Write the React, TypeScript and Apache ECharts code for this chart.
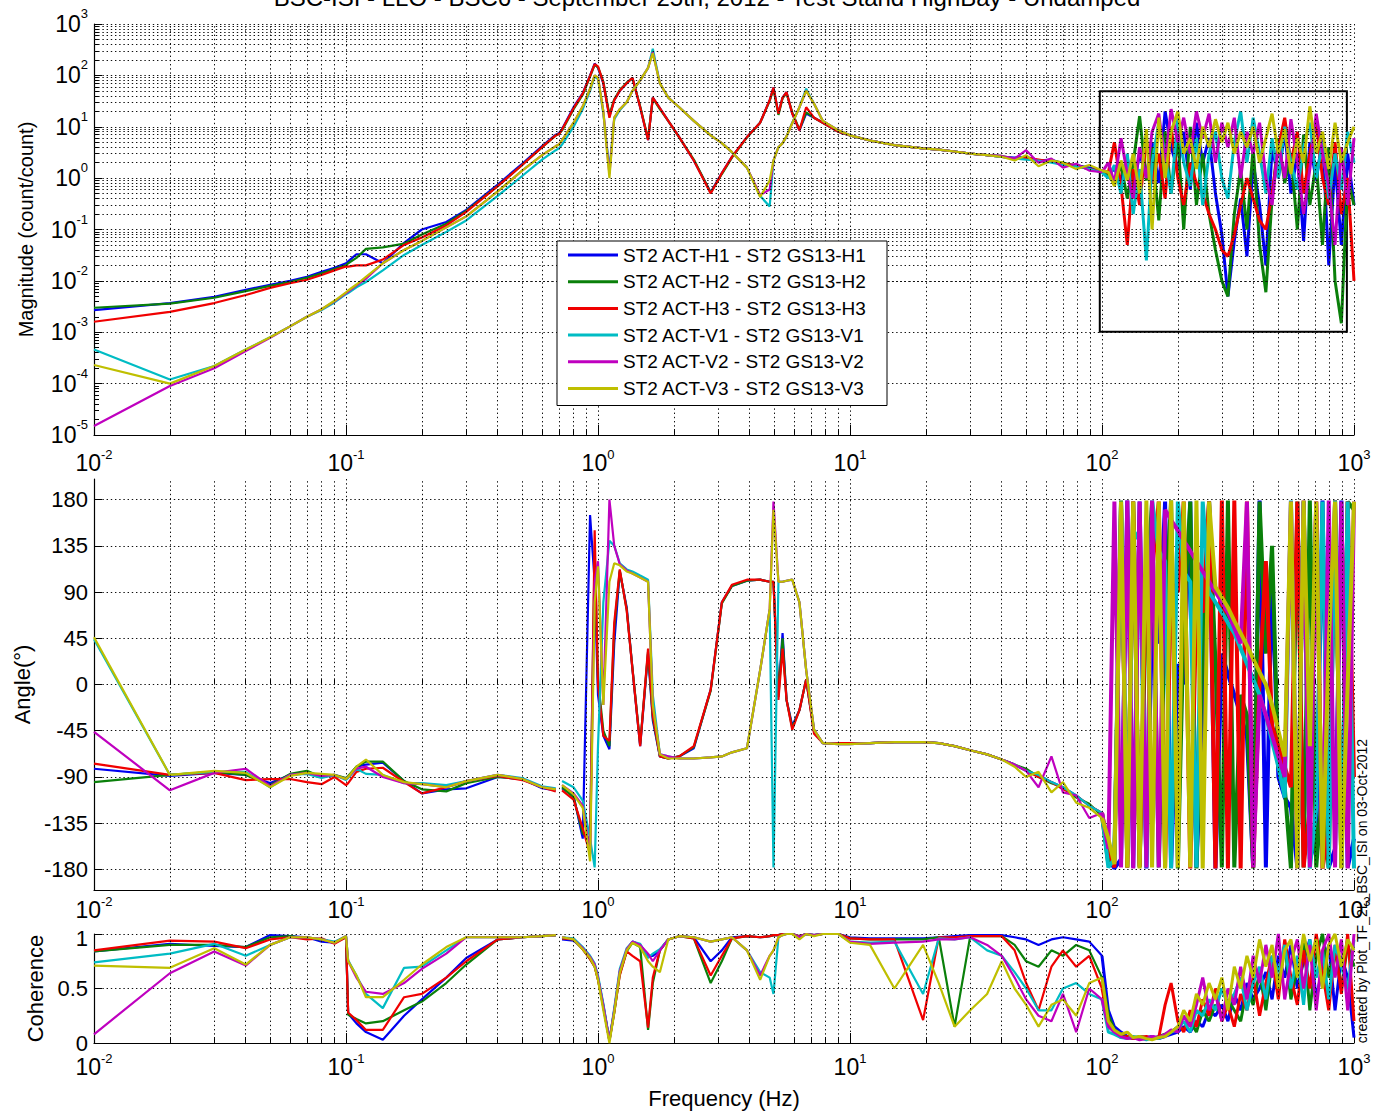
import React, { useEffect, useRef } from 'react';
import * as echarts from 'echarts';

// ---------------- data ----------------
const FREQ_LOW = [
  0.01, 0.02, 0.03, 0.04, 0.05, 0.06, 0.07, 0.08, 0.09, 0.1,
  0.102, 0.11, 0.12, 0.14, 0.17, 0.2, 0.25, 0.3, 0.4, 0.5,
  0.6, 0.68, 0.7, 0.72, 0.8, 0.87, 0.93, 0.97, 1.0, 1.05,
  1.11, 1.16, 1.22, 1.3, 1.37, 1.47, 1.58, 1.65, 1.76, 1.9,
  2.1, 2.4, 2.8, 3.1, 3.4, 3.9, 4.4, 4.8, 4.97, 5.2,
  5.4, 5.6, 5.9, 6.3, 6.7, 7.2, 7.8, 9, 10, 12,
  15, 19.5, 22.5, 26, 30, 35, 40, 45, 50, 56,
  63, 70, 79, 89, 100,
];
const FREQ_HIGH = [
  106, 112, 119, 126, 133, 141, 150, 158, 168, 178,
  188, 200, 211, 224, 237, 251, 266, 282, 299, 316,
  335, 355, 376, 398, 422, 447, 473, 501, 531, 562,
  596, 631, 668, 708, 750, 794, 841, 891, 944, 1000,
];

const NAMES = [
  'ST2 ACT-H1 - ST2 GS13-H1',
  'ST2 ACT-H2 - ST2 GS13-H2',
  'ST2 ACT-H3 - ST2 GS13-H3',
  'ST2 ACT-V1 - ST2 GS13-V1',
  'ST2 ACT-V2 - ST2 GS13-V2',
  'ST2 ACT-V3 - ST2 GS13-V3',
];
const COLORS = ['#0000f0', '#0a800a', '#f00000', '#00bcc4', '#bf00bf', '#bfbf00'];

// Magnitude (count/count)
const MAG_H1_LOW = [
  2.7e-3, 3.7e-3, 4.9e-3, 6.7e-3, 8.4e-3, 1.0e-2, 1.2e-2, 1.5e-2, 1.8e-2, 2.2e-2,
  2.4e-2, 3.3e-2, 3.3e-2, 2.2e-2, 5.5e-2, 0.1, 0.14, 0.24, 0.75, 1.9,
  4.2, 7, 7.5, 9, 24, 45, 100, 170, 140, 70,
  16, 33, 50, 70, 90, 24, 5.5, 37, 23, 13,
  6.3, 2.2, 0.53, 1.25, 2.6, 6.3, 12, 33, 58, 18,
  37, 47, 18, 8.5, 18, 15, 12, 8, 6.8, 5.4,
  4.4, 3.8, 3.6, 3.3, 3.0, 2.8, 2.6, 2.5, 2.6, 2.2,
  2.3, 1.9, 1.8, 1.6, 1.4,
];
const MAG_H1_HIGH = [
  1.2, 1.5, 0.9, 2.5, 0.6, 3, 1.1, 5, 0.8, 20,
  4, 1.5, 8, 0.6, 12, 2, 6, 0.5, 0.08, 0.005,
  0.06, 0.4, 0.03, 2, 0.3, 0.02, 4, 1, 8, 0.5,
  3, 0.06, 5, 0.9, 6, 0.02, 2, 0.05, 3, 0.3,
];
const MAG_H2_LOW = [
  3.0e-3, 3.6e-3, 4.7e-3, 6.3e-3, 8.0e-3, 9.5e-3, 1.15e-2, 1.4e-2, 1.7e-2, 2.0e-2,
  2.2e-2, 2.8e-2, 4.2e-2, 4.5e-2, 5.3e-2, 8e-2, 0.13, 0.23, 0.7, 1.8,
  4.0, 6.8, 7.2, 8.5, 22, 42, 95, 160, 145, 75,
  17, 34, 52, 72, 88, 25, 5.8, 36, 22, 13,
  6.2, 2.3, 0.52, 1.2, 2.5, 6.2, 12, 32, 55, 17,
  36, 45, 19, 8.8, 19, 15, 12, 8, 6.8, 5.4,
  4.4, 3.8, 3.6, 3.3, 3.0, 2.8, 2.7, 2.4, 2.5, 2.1,
  2.2, 2.0, 1.7, 1.5, 1.3,
];
const MAG_H2_HIGH = [
  1.1, 0.8, 1.8, 0.4, 2, 16, 0.9, 4, 0.15, 8,
  0.5, 6, 0.1, 10, 0.3, 3, 0.2, 0.04, 0.01, 0.005,
  0.2, 1.5, 0.1, 4, 0.05, 0.006, 0.4, 6, 0.8, 3,
  0.1, 7, 0.3, 2, 0.05, 4, 0.01, 0.0015, 1, 0.3,
];
const MAG_H3_LOW = [
  1.6e-3, 2.5e-3, 3.7e-3, 5.3e-3, 7.3e-3, 9.0e-3, 1.05e-2, 1.3e-2, 1.6e-2, 1.9e-2,
  1.9e-2, 2.0e-2, 2.0e-2, 2.6e-2, 5.0e-2, 7e-2, 0.12, 0.22, 0.7, 1.8,
  4.0, 6.8, 7.2, 8.8, 23, 44, 98, 165, 150, 72,
  15, 33, 50, 70, 90, 24, 5.5, 37, 23, 13,
  6.3, 2.2, 0.5, 1.25, 2.6, 6.3, 12, 33, 58, 18,
  37, 47, 18, 8.5, 24, 15, 12, 8, 6.8, 5.4,
  4.4, 3.8, 3.6, 3.3, 3.0, 2.8, 2.6, 2.4, 2.5, 2.3,
  2.1, 1.9, 1.8, 1.5, 1.4,
];
const MAG_H3_HIGH = [
  1.3, 5, 0.7, 0.05, 1.5, 0.3, 6, 0.8, 3, 0.4,
  10, 1, 0.3, 2, 0.8, 0.5, 0.2, 0.1, 0.04, 0.03,
  0.08, 0.3, 1, 0.4, 0.15, 0.1, 0.5, 4, 15, 2,
  8, 0.5, 3, 12, 1, 0.3, 5, 0.2, 1, 0.01,
];
const MAG_V1_LOW = [
  4.6e-4, 1.2e-4, 2.2e-4, 4.6e-4, 8e-4, 1.3e-3, 2.0e-3, 2.7e-3, 3.8e-3, 5.5e-3,
  5.8e-3, 7.5e-3, 9.5e-3, 1.6e-2, 3.2e-2, 5e-2, 0.09, 0.15, 0.45, 1.1,
  2.3, 3.5, 3.8, 4.5, 10, 22, 50, 95, 85, 18,
  1.5, 14, 21, 30, 50, 80, 140, 330, 70, 37,
  24, 13, 6.8, 4.8, 3.2, 1.6, 0.45, 0.28, 2.2, 4,
  4.8, 6.5, 12, 24, 55, 28, 13, 8.5, 6.8, 5.4,
  4.4, 3.8, 3.6, 3.3, 3.0, 2.8, 2.6, 2.4, 2.3, 2.2,
  2.0, 1.8, 1.7, 1.5, 1.3,
];
const MAG_V1_HIGH = [
  1.0, 1.8, 0.5, 3, 0.2, 1.5, 0.025, 2, 12, 3,
  0.5, 15, 2, 0.7, 6, 0.3, 3, 8, 1, 0.4,
  5, 20, 2, 15, 3, 0.5, 6, 1, 10, 2,
  0.6, 4, 12, 1, 5, 0.4, 3, 0.6, 8, 2,
];
const MAG_V2_LOW = [
  1.5e-5, 9e-5, 2.0e-4, 4.3e-4, 7.8e-4, 1.3e-3, 2.0e-3, 2.8e-3, 4.0e-3, 5.8e-3,
  6.2e-3, 8.2e-3, 1.1e-2, 2.2e-2, 4e-2, 6e-2, 0.11, 0.18, 0.55, 1.4,
  2.8, 4.2, 4.5, 5.5, 12, 25, 55, 100, 90, 20,
  1.2, 15, 22, 30, 50, 80, 140, 280, 70, 37,
  24, 13, 6.8, 4.8, 3.2, 1.6, 0.47, 0.6, 2.2, 4,
  4.8, 6.5, 11.7, 24, 50, 28, 13, 8.5, 6.8, 5.4,
  4.4, 3.8, 3.6, 3.3, 3.0, 2.8, 2.7, 2.4, 3.5, 2.0,
  2.4, 1.6, 1.9, 1.4, 1.3,
];
const MAG_V2_HIGH = [
  2, 0.8, 6, 1.2, 0.4, 4, 1, 8, 18, 2,
  22, 5, 15, 3, 20, 6, 18, 2, 12, 4,
  15, 1, 8, 3, 12, 1, 0.3, 5, 1, 14,
  2, 0.2, 1.5, 18, 3, 0.7, 0.05, 4, 0.3, 6,
];
const MAG_V3_LOW = [
  2.3e-4, 1.0e-4, 2.2e-4, 4.6e-4, 8e-4, 1.3e-3, 2.0e-3, 2.8e-3, 4.1e-3, 6.0e-3,
  6.5e-3, 8.5e-3, 1.2e-2, 2.2e-2, 4e-2, 6e-2, 0.11, 0.18, 0.55, 1.4,
  2.8, 4.2, 4.5, 5.5, 12, 25, 55, 100, 90, 20,
  1.0, 15, 22, 30, 50, 80, 140, 270, 70, 37,
  24, 13, 6.8, 4.8, 3.2, 1.6, 0.43, 0.9, 2.2, 4,
  4.8, 6.5, 11.7, 24, 50, 28, 13, 8.5, 6.8, 5.4,
  4.4, 3.8, 3.6, 3.3, 3.0, 2.8, 2.6, 2.2, 2.8, 1.7,
  2.2, 2.0, 1.5, 1.8, 1.4,
];
const MAG_V3_HIGH = [
  1.3, 0.7, 2.2, 0.9, 3, 0.5, 9, 0.1, 15, 1,
  8, 20, 3, 6, 1.5, 10, 4, 14, 5, 12,
  3, 8, 4, 10, 2, 6, 18, 3, 9, 1.2,
  6, 2, 25, 3, 8, 1.5, 12, 2, 5, 10,
];

// Phase (degrees)
const PH_H1_LOW = [
  -82, -89, -86, -88, -96, -88, -86, -90, -88, -92,
  -90, -80, -78, -76, -94, -106, -102, -101, -90, -92,
  -101, -103, null, -101, -108, -150, 165, 100, -10, -50,
  -63, 40, 110, 75, 15, -60, 30, -35, -70, -72,
  -70, -62, -5, 80, 96, 101, 102, 100, 100, -10,
  50, -15, -40, -25, 5, -45, -57, -57, -57, -57,
  -56, -56, -57, -60, -64, -68, -73, -78, -84, -88,
  -95, -100, -108, -118, -125,
];
const PH_H1_HIGH = [
  -170, -179, -170, 179, -178, 178, -179, 60, 40, 178,
  -178, 20, 0, 178, -178, -20, 178, -179, 30, 10,
  -10, -30, -50, -178, 179, -178, 110, -90, -110, -120,
  -178, 178, -170, -150, 179, -178, -160, 179, -178, -150,
];
const PH_H2_LOW = [
  -95, -88, -85, -88, -98, -87, -84, -90, -88, -91,
  -89, -80, -75, -75, -94, -102, -104, -96, -90, -92,
  -100, -102, null, -100, -110, -145, -150, 130, 5, -45,
  -60, 55, 111, 73, 16, -58, 32, -32, -70, -72,
  -70, -61, -6, 79, 96, 101, 102, 100, 100, -12,
  45, -15, -42, -25, 5, -46, -57, -57, -57, -57,
  -56, -56, -57, -60, -64, -68, -73, -78, -82, -90,
  -96, -100, -110, -116, -128,
];
const PH_H2_HIGH = [
  -175, -165, 179, -178, 178, -178, 90, 178, -178, 70,
  179, -179, 60, 178, -179, 40, 178, 20, -178, 179,
  -178, -10, -30, -179, 178, 30, 135, -80, -100, -179,
  178, -178, 179, -178, -100, -179, 179, -178, 178, 170,
];
const PH_H3_LOW = [
  -77, -88, -86, -93, -92, -92, -95, -97, -90, -98,
  -96, -85, -82, -81, -95, -106, -100, -94, -89, -93,
  -100, -104, null, -103, -112, -140, -165, 150, 0, -50,
  -55, 60, 112, 72, 15, -60, 35, -30, -70, -72,
  -70, -60, -5, 80, 97, 102, 102, 100, 100, -15,
  35, -15, -44, -25, 5, -48, -57, -57, -57, -57,
  -56, -56, -57, -60, -64, -68, -73, -78, -84, -90,
  -95, -102, -108, -118, -125,
];
const PH_H3_HIGH = [
  -160, -178, 175, -178, 178, -177, 120, 110, 178, -178,
  100, 90, 178, -179, 80, 70, 178, -179, 179, -179,
  179, -179, 178, -178, 5, 120, -40, -60, -80, -100,
  178, -178, -120, 178, -179, -140, 179, -178, 178, -90,
];
const PH_V1_LOW = [
  44, -88, -85, -85, -100, -88, -87, -91, -88, -93,
  -91, -82, -87, -88, -96, -96, -98, -94, -88, -91,
  -99, -101, null, -94, -100, -113, -150, -178, -60, 80,
  140, 135, 118, 112, 110, 106, 102, -10, -68, -70,
  -72, -72, -71, -70, -66, -62, 14, 73, -178, 100,
  100, 101, 102, 80, 14, -44, -57, -58, -58, -57,
  -56, -56, -57, -60, -64, -68, -73, -78, -84, -88,
  -95, -100, -108, -118, -125,
];
const PH_V1_HIGH = [
  -178, -170, 178, -160, 150, 140, -178, 179, 130, 120,
  -179, 178, 110, 100, -178, 178, 90, 80, 70, 60,
  50, 35, 20, 5, -10, -30, -55, -80, -110, 179,
  -178, 178, -179, -120, 178, -179, 179, -178, 178, -179,
];
const PH_V2_LOW = [
  -46, -103, -86, -82, -99, -88, -86, -89, -88, -92,
  -90, -82, -80, -90, -96, -97, -100, -94, -88, -92,
  -100, -102, null, -98, -106, -118, -165, 100, 120, -20,
  180, 135, 117, 111, 108, 104, 100, -20, -68, -70,
  -72, -72, -71, -70, -66, -62, 14, 73, 178, 100,
  100, 101, 102, 80, 14, -44, -57, -58, -58, -57,
  -56, -56, -57, -60, -64, -68, -73, -78, -84, -100,
  -70, -105, -108, -130, -125,
];
const PH_V2_HIGH = [
  -160, 178, -178, 179, -179, 178, -178, 179, -178, 170,
  160, 150, 140, 130, 120, 110, 100, 90, 80, 70,
  55, 40, 178, -178, -10, -30, -50, -70, -90, 178,
  -179, 179, -178, 178, -179, 179, -178, 178, -179, 178,
];
const PH_V3_LOW = [
  46, -88, -84, -86, -100, -89, -86, -87, -88, -92,
  -90, -80, -73, -88, -95, -97, -100, -94, -88, -92,
  -100, -102, null, -98, -107, -120, -172, 80, 115, -20,
  100, 118, 116, 110, 108, 104, 100, -20, -68, -72,
  -72, -72, -71, -70, -66, -62, 14, 73, 170, 100,
  100, 101, 102, 80, 14, -44, -57, -58, -58, -57,
  -56, -56, -57, -60, -64, -68, -73, -80, -90, -85,
  -105, -95, -115, -120, -130,
];
const PH_V3_HIGH = [
  -150, -175, 178, -178, 178, -179, 179, -178, 178, -179,
  179, -178, 178, -178, 179, -179, 178, 95, 85, 75,
  62, 50, 38, 25, 12, 0, -20, -45, -70, 178,
  -179, 179, -60, 178, -179, 40, 178, -179, 0, 178,
];

// Coherence
const COH_H1_LOW = [
  0.84, 0.91, 0.89, 0.88, 0.99, 0.98, 0.97, 0.93, 0.92, 0.98,
  0.27, 0.18, 0.1, 0.03, 0.25, 0.4, 0.6, 0.78, 0.95, 0.97,
  0.98, 0.99, null, 0.95, 0.94, 0.87, 0.78, 0.72, 0.6, 0.35,
  0.03, 0.3, 0.65, 0.85, 0.93, 0.9, 0.8, 0.8, 0.85, 0.95,
  0.98, 0.97, 0.75, 0.85, 0.97, 0.98, 0.97, 0.98, 0.99, 0.99,
  1.0, 1.0, 1.0, 0.98, 1.0, 0.99, 1.0, 1.0, 0.97, 0.96,
  0.96, 0.96, 0.97, 0.98, 0.99, 0.99, 0.99, 0.97, 0.95, 0.9,
  0.95, 0.97, 0.95, 0.93, 0.8,
];
const COH_H1_HIGH = [
  0.3, 0.15, 0.1, 0.06, 0.05, 0.04, 0.05, 0.06, 0.04, 0.06,
  0.08, 0.1, 0.15, 0.1, 0.2, 0.15, 0.3, 0.25, 0.35, 0.2,
  0.45, 0.3, 0.55, 0.4, 0.5, 0.65, 0.4, 0.8, 0.6, 0.9,
  0.5, 0.75, 0.95, 0.4, 0.7, 0.9, 0.3, 0.8, 0.6, 0.05,
];
const COH_H2_LOW = [
  0.84, 0.9, 0.9, 0.88, 0.97, 0.98, 0.96, 0.95, 0.92, 0.97,
  0.26, 0.22, 0.18, 0.2, 0.3, 0.38, 0.55, 0.72, 0.95, 0.97,
  0.98, 0.99, null, 0.96, 0.95, 0.86, 0.77, 0.7, 0.58, 0.33,
  0.02, 0.28, 0.63, 0.84, 0.92, 0.88, 0.12, 0.55, 0.85, 0.95,
  0.98, 0.96, 0.55, 0.75, 0.96, 0.98, 0.97, 0.98, 0.99, 0.99,
  1.0, 1.0, 1.0, 0.98, 1.0, 0.99, 1.0, 1.0, 0.96, 0.95,
  0.95, 0.95, 0.97, 0.15, 0.98, 0.98, 0.98, 0.9, 0.75, 0.7,
  0.85, 0.8, 0.9, 0.85, 0.6,
];
const COH_H2_HIGH = [
  0.25, 0.12, 0.08, 0.05, 0.04, 0.06, 0.05, 0.04, 0.06, 0.08,
  0.1, 0.15, 0.12, 0.2, 0.1, 0.3, 0.2, 0.35, 0.25, 0.4,
  0.3, 0.2, 0.5, 0.35, 0.65, 0.3, 0.75, 0.55, 0.9, 0.4,
  0.7, 0.95, 0.3, 0.8, 1.0, 0.6, 0.85, 0.5, 0.9, 0.7,
];
const COH_H3_LOW = [
  0.85, 0.94, 0.93, 0.87, 0.95, 0.97, 0.95, 0.96, 0.91, 0.97,
  0.28, 0.21, 0.12, 0.12, 0.42, 0.45, 0.6, 0.75, 0.95, 0.97,
  0.98, 0.99, null, 0.96, 0.95, 0.86, 0.77, 0.7, 0.58, 0.33,
  0.02, 0.28, 0.62, 0.84, 0.8, 0.75, 0.14, 0.6, 0.85, 0.95,
  0.98, 0.96, 0.62, 0.8, 0.96, 0.98, 0.97, 0.98, 0.99, 0.99,
  1.0, 1.0, 1.0, 0.98, 1.0, 0.99, 1.0, 1.0, 0.96, 0.95,
  0.95, 0.21, 0.97, 0.97, 0.98, 0.98, 0.98, 0.85, 0.55, 0.3,
  0.7, 0.85, 0.7, 0.8, 0.5,
];
const COH_H3_HIGH = [
  0.2, 0.1, 0.05, 0.06, 0.04, 0.05, 0.06, 0.04, 0.05, 0.35,
  0.55, 0.2, 0.1, 0.3, 0.15, 0.4, 0.25, 0.5, 0.2, 0.35,
  0.15, 0.45, 0.3, 0.6, 0.25, 0.55, 0.8, 0.4, 0.95, 0.6,
  0.35, 0.85, 0.5, 1.0, 0.65, 0.3, 0.9, 0.45, 1.0, 0.2,
];
const COH_V1_LOW = [
  0.74, 0.82, 0.91, 0.8, 0.9, 0.97, 0.97, 0.95, 0.93, 0.98,
  0.76, 0.62, 0.45, 0.32, 0.69, 0.7, 0.85, 0.97, 0.97, 0.97,
  0.98, 0.99, null, 0.97, 0.96, 0.88, 0.8, 0.73, 0.62, 0.36,
  0.02, 0.32, 0.68, 0.87, 0.93, 0.91, 0.78, 0.82, 0.86, 0.95,
  0.98, 0.97, 0.93, 0.95, 0.97, 0.85, 0.65, 0.6, 0.45, 0.97,
  0.99, 1.0, 1.0, 0.97, 1.0, 0.99, 1.0, 1.0, 0.93, 0.92,
  0.93, 0.45, 0.96, 0.95, 0.97, 0.85, 0.8, 0.65, 0.5, 0.3,
  0.3, 0.5, 0.55, 0.45, 0.4,
];
const COH_V1_HIGH = [
  0.1, 0.08, 0.05, 0.04, 0.06, 0.05, 0.03, 0.05, 0.04, 0.07,
  0.1, 0.12, 0.2, 0.1, 0.3, 0.25, 0.4, 0.3, 0.5, 0.35,
  0.45, 0.6, 0.3, 0.55, 0.7, 0.4, 0.8, 0.65, 0.9, 0.5,
  0.8, 0.35, 0.95, 0.6, 0.85, 0.4, 0.9, 0.7, 0.5, 0.95,
];
const COH_V2_LOW = [
  0.08, 0.64, 0.84, 0.71, 0.9, 0.97, 0.97, 0.95, 0.92, 0.98,
  0.75, 0.6, 0.47, 0.45, 0.55, 0.68, 0.82, 0.97, 0.97, 0.97,
  0.98, 0.99, null, 0.97, 0.95, 0.87, 0.79, 0.72, 0.6, 0.34,
  0.02, 0.3, 0.66, 0.86, 0.93, 0.9, 0.82, 0.75, 0.85, 0.95,
  0.98, 0.97, 0.93, 0.95, 0.97, 0.85, 0.62, 0.8, 0.85, 0.97,
  0.99, 1.0, 1.0, 0.97, 1.0, 0.99, 1.0, 1.0, 0.93, 0.91,
  0.92, 0.93, 0.95, 0.95, 0.97, 0.9, 0.8, 0.6, 0.4, 0.25,
  0.2, 0.45, 0.1, 0.5, 0.4,
];
const COH_V2_HIGH = [
  0.15, 0.1, 0.06, 0.04, 0.05, 0.03, 0.04, 0.06, 0.05, 0.08,
  0.12, 0.1, 0.25, 0.15, 0.35, 0.6, 0.3, 0.45, 0.2, 0.5,
  0.35, 0.7, 0.4, 0.8, 0.55, 0.9, 0.6, 1.0, 0.4, 0.75,
  0.95, 0.5, 0.9, 0.3, 0.85, 1.0, 0.6, 0.95, 0.3, 1.0,
];
const COH_V3_LOW = [
  0.71, 0.69, 0.87, 0.72, 0.9, 0.97, 0.97, 0.95, 0.92, 0.98,
  0.75, 0.62, 0.42, 0.42, 0.58, 0.72, 0.88, 0.97, 0.97, 0.97,
  0.98, 0.99, null, 0.97, 0.95, 0.86, 0.78, 0.7, 0.58, 0.3,
  0.0, 0.28, 0.64, 0.85, 0.92, 0.88, 0.75, 0.7, 0.65, 0.95,
  0.98, 0.97, 0.93, 0.95, 0.97, 0.85, 0.58, 0.8, 0.85, 0.97,
  0.99, 1.0, 1.0, 0.95, 1.0, 0.98, 1.0, 1.0, 0.92, 0.9,
  0.5, 0.9, 0.55, 0.15, 0.3, 0.45, 0.75, 0.5, 0.35, 0.15,
  0.35, 0.4, 0.25, 0.55, 0.6,
];
const COH_V3_HIGH = [
  0.2, 0.12, 0.08, 0.1, 0.05, 0.06, 0.04, 0.03, 0.05, 0.06,
  0.1, 0.15, 0.3, 0.2, 0.45, 0.35, 0.55, 0.4, 0.6, 0.3,
  0.7, 0.5, 0.8, 0.6, 0.95, 0.7, 0.9, 0.5, 0.85, 0.95,
  0.6, 1.0, 0.75, 0.95, 0.5, 0.9, 1.0, 0.7, 0.95, 0.85,
];

const PHASE_TICKS = [-180, -135, -90, -45, 0, 45, 90, 135, 180];
const COH_TICKS = [0, 0.5, 1];

const TITLE = 'BSC-ISI - LLO - BSC6 - September 25th, 2012 - Test Stand HighBay - Undamped';
const CREDIT = 'created by Plot_TF_2L_BSC_ISI on 03-Oct-2012';

// ---------------- chart ----------------
const FONT = '"Liberation Sans", Arial, Helvetica, sans-serif';
const DOT = { type: [1.4, 2.8], color: '#111', width: 1 };
const LEFT = 94;
const WIDTH = 1260;
const GRIDS = [
  { top: 24, height: 411 },
  { top: 479, height: 411 },
  { top: 934, height: 109 },
];

const minorValues = (lo: number, hi: number) => {
  const out: number[] = [];
  for (let e = lo; e < hi; e++) for (let k = 2; k <= 9; k++) out.push(+(k * Math.pow(10, e)).toPrecision(6));
  return out;
};
const X_MINOR = minorValues(-2, 3);
const Y_MINOR = minorValues(-5, 3);

const logLabel = (v: number) => `{b|10}{e|${Math.round(Math.log10(v))}}`;
const RICH_Y = {
  b: { fontSize: 23, lineHeight: 34, fontFamily: FONT, color: '#000' },
  e: { fontSize: 13, lineHeight: 14, verticalAlign: 'top', fontFamily: FONT, color: '#000' },
};
const RICH_X = {
  b: { fontSize: 23, lineHeight: 26, verticalAlign: 'bottom', fontFamily: FONT, color: '#000' },
  e: { fontSize: 13, lineHeight: 12, verticalAlign: 'top', fontFamily: FONT, color: '#000' },
};
const X_LABEL_MARGIN = [13, 5, 9];

function buildOption() {
  const defs = [
    { mag: [MAG_H1_LOW, MAG_H1_HIGH], ph: [PH_H1_LOW, PH_H1_HIGH], coh: [COH_H1_LOW, COH_H1_HIGH] },
    { mag: [MAG_H2_LOW, MAG_H2_HIGH], ph: [PH_H2_LOW, PH_H2_HIGH], coh: [COH_H2_LOW, COH_H2_HIGH] },
    { mag: [MAG_H3_LOW, MAG_H3_HIGH], ph: [PH_H3_LOW, PH_H3_HIGH], coh: [COH_H3_LOW, COH_H3_HIGH] },
    { mag: [MAG_V1_LOW, MAG_V1_HIGH], ph: [PH_V1_LOW, PH_V1_HIGH], coh: [COH_V1_LOW, COH_V1_HIGH] },
    { mag: [MAG_V2_LOW, MAG_V2_HIGH], ph: [PH_V2_LOW, PH_V2_HIGH], coh: [COH_V2_LOW, COH_V2_HIGH] },
    { mag: [MAG_V3_LOW, MAG_V3_HIGH], ph: [PH_V3_LOW, PH_V3_HIGH], coh: [COH_V3_LOW, COH_V3_HIGH] },
  ];
  const lastLow = FREQ_LOW.length - 1;
  const lowPairs = (vals: (number | null)[]) => FREQ_LOW.map((f, i) => [f, vals[i]]);
  const highPairs = (low: (number | null)[], high: number[]) =>
    [[FREQ_LOW[lastLow], low[lastLow]]].concat(FREQ_HIGH.map((f, i) => [f, high[i]]));

  const series: any[] = [];
  const gridHelper = (idx: number, marks: any[]) => ({
    type: 'line', xAxisIndex: idx, yAxisIndex: idx, data: [], silent: true, z: 1,
    markLine: {
      silent: true, symbol: ['none', 'none'], label: { show: false }, animation: false,
      lineStyle: { ...DOT }, emphasis: { disabled: true }, data: marks,
    },
  });
  series.push(gridHelper(0, X_MINOR.map((v) => ({ xAxis: v })).concat(Y_MINOR.map((v) => ({ yAxis: v })) as any)));
  series.push(gridHelper(1, X_MINOR.map((v) => ({ xAxis: v }))));
  series.push(gridHelper(2, X_MINOR.map((v) => ({ xAxis: v }))));

  const panels: ('mag' | 'ph' | 'coh')[] = ['mag', 'ph', 'coh'];
  const hfWidth = [3, 4, 3];
  panels.forEach((key, p) => {
    defs.forEach((d, i) => {
      const [low, high] = (d as any)[key];
      const base = {
        type: 'line', name: NAMES[i], xAxisIndex: p, yAxisIndex: p,
        showSymbol: false, symbol: 'none', connectNulls: false, z: 3,
        color: COLORS[i], emphasis: { disabled: true },
      };
      series.push({ ...base, data: lowPairs(low), lineStyle: { width: 2.2, color: COLORS[i] } });
      series.push({ ...base, data: highPairs(low, high), lineStyle: { width: hfWidth[p], color: COLORS[i] } });
    });
  });

  series.push({
    type: 'line', xAxisIndex: 0, yAxisIndex: 0, data: [], silent: true, z: 8,
    markArea: {
      silent: true, animation: false,
      itemStyle: { color: 'rgba(0,0,0,0)', borderColor: '#000', borderWidth: 2 },
      emphasis: { disabled: true },
      data: [[{ coord: [98, 49] }, { coord: [937, 0.00102] }]],
    },
  });

  const mainX = (idx: number) => ({
    type: 'log', gridIndex: idx, min: 0.01, max: 1000, logBase: 10,
    axisLine: { show: true, onZero: false, lineStyle: { color: '#000', width: 1.2 } },
    axisTick: { show: true, inside: true, length: 10, lineStyle: { color: '#000' } },
    axisLabel: { formatter: logLabel, rich: RICH_X, margin: X_LABEL_MARGIN[idx] },
    splitLine: { show: true, lineStyle: { ...DOT } },
    ...(idx === 2 ? { name: 'Frequency (Hz)', nameLocation: 'middle', nameGap: 44, nameTextStyle: { fontSize: 22, fontFamily: FONT, color: '#000' } } : {}),
  });
  const minorX = (idx: number) => ({
    type: 'log', gridIndex: idx, min: 0.01, max: 1000, logBase: 10, position: 'bottom',
    axisLine: { show: false }, axisLabel: { show: false }, splitLine: { show: false },
    axisTick: { show: true, inside: true, length: 6, customValues: X_MINOR, lineStyle: { color: '#000' } },
  });

  return {
    animation: false,
    backgroundColor: '#fff',
    textStyle: { fontFamily: FONT },
    grid: GRIDS.map((g) => ({ left: LEFT, width: WIDTH, top: g.top, height: g.height, containLabel: false })),
    legend: {
      data: NAMES.map((n) => ({ name: n, icon: 'rect' })), orient: 'vertical', left: 557, top: 241,
      itemWidth: 50, itemHeight: 3, itemGap: 6.7, padding: [4, 9, 7, 11],
      backgroundColor: '#fff', borderColor: '#000', borderWidth: 1, borderRadius: 0,
      selectedMode: false, z: 20,
      textStyle: { fontSize: 19, fontFamily: FONT, color: '#000', lineHeight: 20, width: 255 },
    },
    xAxis: [mainX(0), mainX(1), mainX(2), minorX(0), minorX(1), minorX(2)],
    yAxis: [
      {
        type: 'log', gridIndex: 0, min: 1e-5, max: 1e3, logBase: 10, splitNumber: 8,
        name: 'Magnitude (count/count)', nameLocation: 'middle', nameGap: 58,
        nameTextStyle: { fontSize: 20, fontFamily: FONT, color: '#000' },
        axisLine: { show: true, lineStyle: { color: '#000', width: 1.2 } },
        axisTick: { show: true, inside: true, length: 8, lineStyle: { color: '#000' } },
        axisLabel: { formatter: logLabel, rich: RICH_Y, margin: 6 },
        splitLine: { show: true, lineStyle: { ...DOT } },
      },
      {
        type: 'value', gridIndex: 1, min: -200, max: 200,
        name: 'Angle(°)', nameLocation: 'middle', nameGap: 60,
        nameTextStyle: { fontSize: 22, fontFamily: FONT, color: '#000' },
        axisLine: { show: true, onZero: false, lineStyle: { color: '#000', width: 1.2 } },
        axisTick: { show: true, inside: true, length: 8, customValues: PHASE_TICKS, lineStyle: { color: '#000' } },
        axisLabel: { customValues: PHASE_TICKS, fontSize: 22, fontFamily: FONT, color: '#000', margin: 6 },
        splitLine: { show: true, lineStyle: { ...DOT } },
      },
      {
        type: 'value', gridIndex: 2, min: 0, max: 1, interval: 0.5,
        name: 'Coherence', nameLocation: 'middle', nameGap: 48,
        nameTextStyle: { fontSize: 22, fontFamily: FONT, color: '#000' },
        axisLine: { show: true, onZero: false, lineStyle: { color: '#000', width: 1.2 } },
        axisTick: { show: true, inside: true, length: 8, lineStyle: { color: '#000' } },
        axisLabel: {
          margin: 6,
          formatter: (v: number) => (v === 1 ? '{top|1}' : COH_TICKS.includes(v) ? `{n|${v}}` : ''),
          rich: {
            n: { fontSize: 22, lineHeight: 22, fontFamily: FONT, color: '#000' },
            top: { fontSize: 22, lineHeight: 22, padding: [8, 0, 0, 0], fontFamily: FONT, color: '#000' },
          },
        },
        splitLine: { show: true, lineStyle: { ...DOT } },
      },
      {
        type: 'log', gridIndex: 0, min: 1e-5, max: 1e3, logBase: 10, position: 'left',
        axisLine: { show: false }, axisLabel: { show: false }, splitLine: { show: false },
        axisTick: { show: true, inside: true, length: 5, customValues: Y_MINOR, lineStyle: { color: '#000' } },
      },
    ],
    graphic: [
      {
        type: 'text', x: 707, y: -15, z: 30,
        style: { text: TITLE, fontSize: 24, fontFamily: FONT, fill: '#000', textAlign: 'center', textVerticalAlign: 'top' },
      },
      {
        type: 'text', x: 1362, y: 891, rotation: Math.PI / 2, z: 30,
        style: { text: CREDIT, fontSize: 14, fontFamily: FONT, fill: '#000', textAlign: 'center', textVerticalAlign: 'middle' },
      },
    ],
    series,
  };
}

export default function App() {
  const ref = useRef<HTMLDivElement>(null);
  useEffect(() => {
    if (!ref.current) return;
    const chart = echarts.init(ref.current, null, { renderer: 'svg' });
    chart.setOption(buildOption() as any);
    return () => chart.dispose();
  }, []);
  return (
    <div
      ref={ref}
      style={{ position: 'absolute', left: 0, top: 0, width: 1385, height: 1111, background: '#fff' }}
    />
  );
}
